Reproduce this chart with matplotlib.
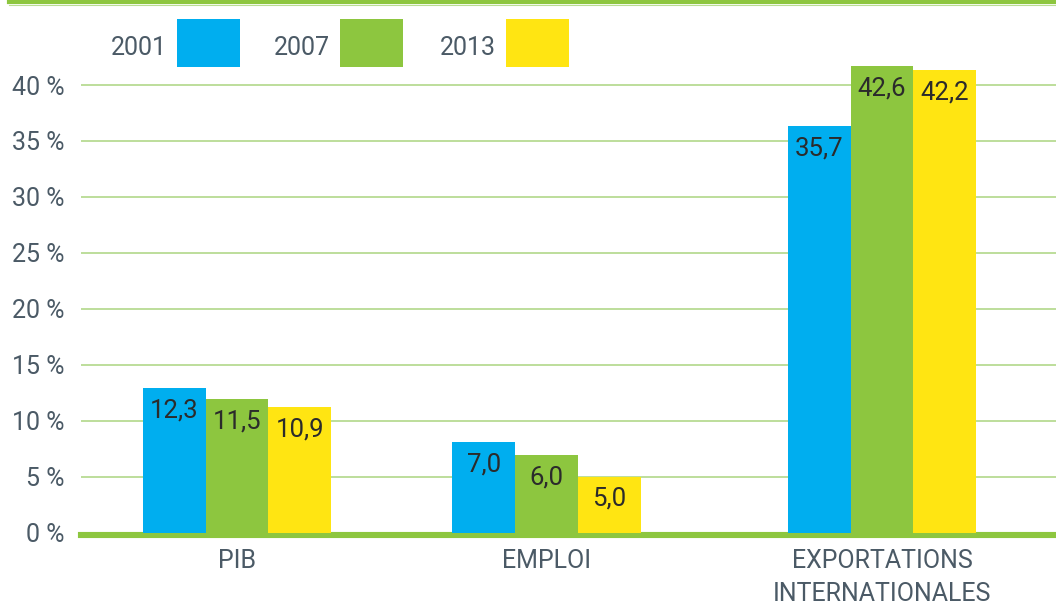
import matplotlib.pyplot as plt
from matplotlib.patches import Rectangle
from matplotlib.lines import Line2D

categories = ['PIB', 'EMPLOI', 'EXPORTATIONS\nINTERNATIONALES']
years = ['2001', '2007', '2013']

# bar heights as drawn in the source chart (%)
heights_2001 = [12.9, 8.1, 36.3]
heights_2007 = [11.9, 6.9, 41.7]
heights_2013 = [11.2, 5.0, 41.3]

# values printed on the bars
labels_2001 = ['12,3', '7,0', '35,7']
labels_2007 = ['11,5', '6,0', '42,6']
labels_2013 = ['10,9', '5,0', '42,2']

yticks = [0, 5, 10, 15, 20, 25, 30, 35, 40]

colors = ['#00aeef', '#8dc63f', '#ffe512']
text_color = '#4b5a66'
value_color = '#2b2b2b'
grid_color = '#b2d88a'

plt.rcParams['font.family'] = ['Roboto', 'DejaVu Sans']

W, H = 1056, 604
fig = plt.figure(figsize=(W / 100, H / 100), dpi=100)
ax = fig.add_axes([81 / W, (H - 532.6) / H, 1 - 81 / W, 532.6 / H])

group_pos = [0, 1, 2.084]
bar_w = 0.203
series = [heights_2001, heights_2007, heights_2013]
texts = [labels_2001, labels_2007, labels_2013]

for i, (vals, labs) in enumerate(zip(series, texts)):
    xs = [g + (i - 1) * bar_w for g in group_pos]
    bars = ax.bar(xs, vals, width=bar_w, color=colors[i], zorder=3, linewidth=0)
    for b, lab in zip(bars, labs):
        ax.annotate(lab, (b.get_x() + b.get_width() / 2, b.get_height()),
                    xytext=(0, -16), textcoords='offset points',
                    ha='center', va='center', fontsize=18.5, color=value_color,
                    zorder=4)

ax.set_xlim(-0.504, 2.646)
ax.set_ylim(0, 47.6)

ax.set_yticks(yticks)
ax.set_yticklabels([f'{t} %' for t in yticks])
ax.yaxis.grid(True, color=grid_color, linewidth=1.2, zorder=0)
ax.set_axisbelow(True)

ax.set_xticks(group_pos)
ax.set_xticklabels(categories)
ax.tick_params(axis='both', length=0, labelsize=18, labelcolor=text_color)
ax.tick_params(axis='y', pad=12)
ax.tick_params(axis='x', pad=12)
for lab in ax.get_xticklabels():
    lab.set_linespacing(1.45)

for s in ax.spines.values():
    s.set_visible(False)

# thick baseline
ax.axhline(-0.21, color='#8dc63f', linewidth=4.4, zorder=2, clip_on=False)

# top rule
fig.add_artist(Line2D([9 / W, 1], [1 - 2 / H] * 2, color='#8dc63f', linewidth=3,
                      transform=fig.transFigure))
fig.add_artist(Line2D([9 / W, 1], [1 - 4.5 / H] * 2, color='#b9dd93', linewidth=0.8,
                      transform=fig.transFigure))

# legend
leg_boxes = [177, 340, 506]
for x0, yr, c in zip(leg_boxes, years, colors):
    fig.add_artist(Rectangle((x0 / W, (H - 67) / H), 63 / W, 48 / H,
                             transform=fig.transFigure, color=c, linewidth=0))
    fig.text((x0 - 10) / W, (H - 48) / H, yr, ha='right', va='center',
             fontsize=18, color=text_color)

fig.savefig('out.png', dpi=100)
